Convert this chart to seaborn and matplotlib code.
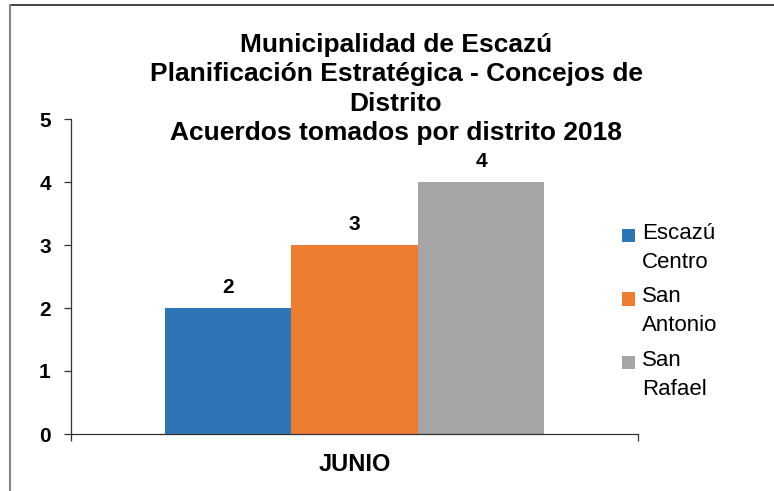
import matplotlib
matplotlib.use("Agg")
import matplotlib.pyplot as plt
from matplotlib.lines import Line2D
from matplotlib.patches import Patch, Rectangle
from matplotlib.legend_handler import HandlerBase
import pandas as pd
import seaborn as sns

# datos del gráfico
meses = ["JUNIO"]
distritos = ["Escazú Centro", "San Antonio", "San Rafael"]
acuerdos = [2, 3, 4]
colores = ["#2E75B6", "#ED7D31", "#A5A5A5"]
titulo = ("Municipalidad de Escazú\n"
          "Planificación Estratégica - Concejos de\n"
          "Distrito\n"
          "Acuerdos tomados por distrito 2018")

df = pd.DataFrame({
    "mes": meses * len(distritos),
    "distrito": distritos,
    "acuerdos": acuerdos,
})


class CuadroArriba(HandlerBase):
    """cuadro de leyenda alineado con la primera línea del texto"""
    def create_artists(self, legend, orig_handle, xdescent, ydescent,
                       width, height, fontsize, trans):
        lado = 0.6 * fontsize
        r = Rectangle((-xdescent, -ydescent + 0.62 * fontsize), lado, lado,
                      facecolor=orig_handle.get_facecolor(), edgecolor="none",
                      transform=trans)
        return [r]


sns.set_theme(style="white")
plt.rcParams["font.family"] = ["Liberation Sans", "DejaVu Sans"]
for k in ["text.color", "axes.labelcolor", "xtick.labelcolor", "ytick.labelcolor"]:
    plt.rcParams[k] = "black"

W, H = 774, 491
fig = plt.figure(figsize=(W / 100, H / 100), dpi=100)
ax = fig.add_axes([71 / W, 1 - 434 / H, (638 - 71) / W, (434 - 119) / H])

sns.barplot(data=df, x="mes", y="acuerdos", hue="distrito", palette=colores,
            width=0.67, saturation=1, linewidth=0, ax=ax, legend=False)

# etiquetas de datos
for cont in ax.containers:
    ax.bar_label(cont, fmt="%d", fontsize=15, fontweight="bold", padding=8)

ax.set_ylim(0, 5)
ax.set_xlim(-0.5, 0.5)
ax.set_yticks(range(0, 6))
ax.set_xlabel("")
ax.set_ylabel("")

# ejes estilo Excel
for s in ["top", "right"]:
    ax.spines[s].set_visible(False)
for s in ["left", "bottom"]:
    ax.spines[s].set_color("#333333")
    ax.spines[s].set_linewidth(0.9)
ax.tick_params(axis="y", direction="out", length=5, width=0.9, color="#333333",
               left=True, pad=9.5, labelsize=15)
ax.tick_params(axis="x", which="major", length=0, pad=14, labelsize=17)
ax.set_xticks([-0.5, 0.5], minor=True)
ax.tick_params(axis="x", which="minor", direction="out", length=5, width=0.9,
               color="#333333", bottom=True)
for lbl in ax.get_yticklabels() + ax.get_xticklabels():
    lbl.set_fontweight("bold")

# título
fig.text(396 / W, 1 - 89 / H, titulo, ha="center", va="center",
         fontsize=19, fontweight="bold", linespacing=1.27)

# leyenda
handles = [Patch(facecolor=c, edgecolor="none") for c in colores]
etiquetas = [d.replace(" ", "\n") for d in distritos]
leg = fig.legend(handles, etiquetas, loc="upper left",
                 bbox_to_anchor=(622 / W, 1 - 223 / H),
                 frameon=False, fontsize=16, handlelength=0.6, handleheight=0.7,
                 handletextpad=0.3, labelspacing=0.6, borderpad=0, borderaxespad=0,
                 handler_map={Patch: CuadroArriba()})
for t in leg.get_texts():
    t.set_linespacing(1.5)

# borde del área del gráfico
fig.add_artist(Line2D([10 / W, 1], [1 - 5 / H, 1 - 5 / H], color="#222222", lw=1.2))
fig.add_artist(Line2D([10 / W, 10 / W], [0, 1 - 5 / H], color="#888888", lw=1.5))

fig.savefig("out.png", dpi=100)
